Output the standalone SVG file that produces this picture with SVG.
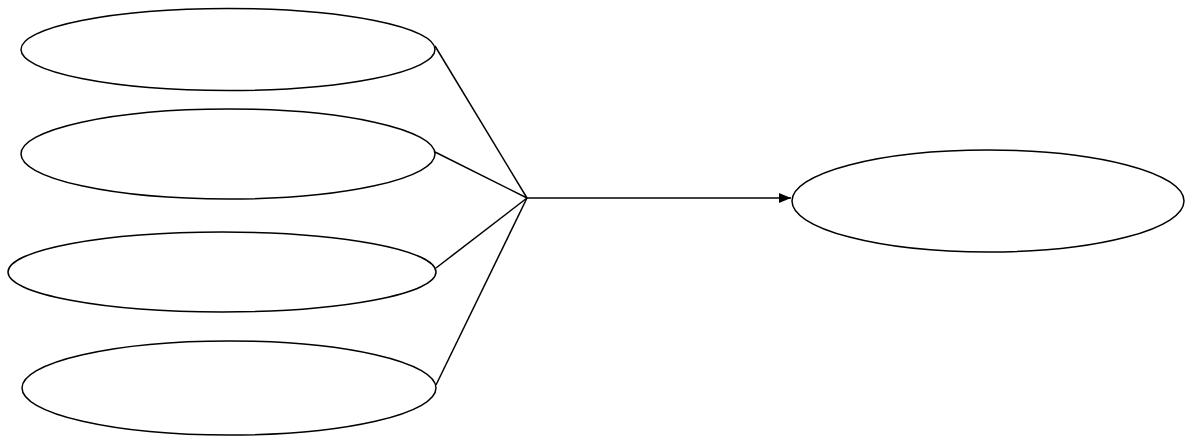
<svg xmlns="http://www.w3.org/2000/svg" width="1196" height="438" viewBox="0 0 1196 438">
<style>
.n{fill:#fff;stroke:#000;stroke-width:1.5}
.c{fill:none;stroke:#000;stroke-width:1.5}
</style>
<defs>
<marker id="ah" markerWidth="12" markerHeight="10" refX="12" refY="5" orient="auto" markerUnits="userSpaceOnUse">
<path d="M0,0 L12,5 L0,10 Z" fill="#000"/>
</marker>
</defs>
<rect width="1196" height="438" fill="#fff"/>
<g id="n1"><ellipse class="n" cx="228" cy="49.5" rx="207" ry="41"/></g>
<g id="n2"><ellipse class="n" cx="228" cy="154" rx="207" ry="45"/></g>
<g id="n3"><ellipse class="n" cx="222" cy="272" rx="214" ry="40"/></g>
<g id="n4"><ellipse class="n" cx="229" cy="388" rx="207" ry="47"/></g>
<g id="n5"><ellipse class="n" cx="988" cy="201" rx="196" ry="51"/></g>
<g id="connectors">
<path class="c" d="M435,46 L527,198"/>
<path class="c" d="M435,152 L527,198"/>
<path class="c" d="M436,268 L527,198"/>
<path class="c" d="M436,385 L527,198"/>
<path class="c" d="M527,198 L791,198" marker-end="url(#ah)"/>
</g>
</svg>
